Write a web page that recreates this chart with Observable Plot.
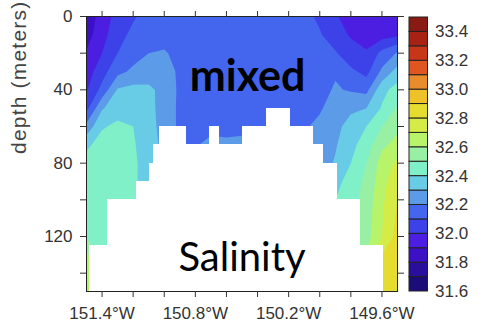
<!DOCTYPE html>
<html><head><meta charset="utf-8">
<script src="https://cdn.jsdelivr.net/npm/d3@7"></script>
<script src="https://cdn.jsdelivr.net/npm/@observablehq/plot@0.6"></script>
<style>
html,body{margin:0;padding:0;background:#fff;}
#chart{position:relative;width:479px;height:322px;overflow:hidden;}
#chart svg{position:absolute;top:0;}
</style></head><body><div id="chart"></div>
<script>
// grid longitudes (deg E, i.e. negative = W) and depths (m)
const lons = [-151.5,-151.4,-151.3,-151.2,-151.1,-151.0,-150.9,-150.8,-150.7,-150.6,-150.5,-150.4,-150.3,-150.2,-150.1,-150.0,-149.9,-149.8,-149.7,-149.6,-149.5];
const depths = [0,10,20,30,40,50,60,70,80,90,100,110,120,130,140,150];
// salinity, one row per depth, one value per longitude
const salinity = [
 [31.84,31.94,32.04,32.09,32.13,32.15,32.15,32.15,32.15,32.15,32.15,32.15,32.15,32.15,32.13,32.08,32.01,31.96,31.95,31.95,31.96],
 [31.86,31.96,32.07,32.12,32.15,32.16,32.16,32.16,32.16,32.16,32.16,32.16,32.16,32.15,32.14,32.11,32.04,31.99,31.96,31.96,31.98],
 [31.91,32.00,32.10,32.16,32.20,32.21,32.17,32.16,32.16,32.16,32.16,32.16,32.16,32.16,32.15,32.14,32.11,32.04,32.01,32.13,32.21],
 [31.95,32.06,32.17,32.22,32.25,32.25,32.18,32.16,32.16,32.16,32.16,32.16,32.16,32.16,32.15,32.17,32.19,32.12,32.07,32.22,32.34],
 [31.99,32.13,32.31,32.33,32.32,32.27,32.18,32.16,32.16,32.16,32.16,32.16,32.16,32.16,32.15,32.17,32.21,32.19,32.17,32.37,32.44],
 [32.07,32.29,32.36,32.37,32.33,32.26,32.18,32.16,32.16,32.16,32.16,32.16,32.16,32.16,32.16,32.19,32.24,32.28,32.30,32.41,32.51],
 [32.23,32.39,32.42,32.40,32.34,32.26,32.18,32.17,32.17,32.17,32.17,32.17,32.16,32.16,32.19,32.22,32.27,32.34,32.40,32.50,32.58],
 [32.38,32.44,32.45,32.41,32.35,32.27,32.18,32.19,32.23,32.22,32.23,32.20,32.17,32.17,32.20,32.24,32.29,32.37,32.45,32.58,32.63],
 [32.44,32.46,32.46,32.42,32.35,32.27,32.18,32.20,32.23,32.22,32.23,32.20,32.17,32.18,32.20,32.25,32.31,32.40,32.50,32.64,32.72],
 [32.46,32.47,32.46,32.42,32.35,32.27,32.18,32.20,32.23,32.22,32.23,32.20,32.17,32.18,32.20,32.26,32.36,32.45,32.52,32.66,32.78],
 [32.47,32.47,32.46,32.42,32.35,32.27,32.18,32.20,32.23,32.22,32.23,32.20,32.17,32.18,32.20,32.26,32.40,32.46,32.54,32.68,32.80],
 [32.48,32.47,32.46,32.42,32.35,32.27,32.18,32.20,32.23,32.22,32.23,32.20,32.17,32.18,32.20,32.26,32.42,32.47,32.55,32.69,32.82],
 [32.49,32.47,32.46,32.42,32.35,32.27,32.18,32.20,32.23,32.22,32.23,32.20,32.17,32.18,32.20,32.26,32.42,32.47,32.56,32.70,32.84],
 [32.62,32.48,32.46,32.42,32.35,32.27,32.18,32.20,32.23,32.22,32.23,32.20,32.17,32.18,32.20,32.26,32.42,32.47,32.58,32.80,32.86],
 [32.66,32.49,32.46,32.42,32.35,32.27,32.18,32.20,32.23,32.22,32.23,32.20,32.17,32.18,32.20,32.26,32.42,32.47,32.59,32.81,32.87],
 [32.70,32.50,32.46,32.42,32.35,32.27,32.18,32.20,32.23,32.22,32.23,32.20,32.17,32.18,32.20,32.26,32.42,32.47,32.60,32.82,32.88]
];
// contour levels and their colours
const levels = [31.6,31.7,31.8,31.9,32.0,32.1,32.2,32.3,32.4,32.5,32.6,32.7,32.8,32.9,33.0,33.1,33.2,33.3,33.4,33.5];
const levelColors = ["#1c0c78","#2a0e9c","#3c10c4","#4c1ee2","#3c42e8","#4466ee","#5c9be8","#68cce6","#80f0c8","#98f0a4","#b8f46a","#d6ec46","#e6dc30","#f0c22a","#e88c2c","#e05620","#c8361a","#a82214","#8a1a14"];
// bathymetry (white area): longitude edges and depth of the top of the sea floor
const maskLon1 = [-151.482,-151.365,-151.180,-151.093,-151.067,-151.030,-150.858,-150.708,-150.644,-150.498,-150.341,-150.187,-150.039,-149.974,-149.884,-149.736];
const maskLon2 = [-151.365,-151.180,-151.093,-151.067,-151.030,-150.858,-150.708,-150.644,-150.498,-150.341,-150.187,-150.039,-149.974,-149.884,-149.736,-149.588];
const maskDepth = [125,100,90,80,70,60,70,60,70,60,50,60,70,80,100,125];
// ticks
const xTicks = [-151.4,-151.2,-151.0,-150.8,-150.6,-150.4,-150.2,-150.0,-149.8,-149.6];
const xTickLabels = ["151.4°W","","","150.8°W","","","150.2°W","","","149.6°W"];
const yTicks = [0,20,40,60,80,100,120,140];
const yTickLabels = ["0","","40","","80","","120",""];
const cbTicks = [31.6,31.8,32.0,32.2,32.4,32.6,32.8,33.0,33.2,33.4];
const cbTickLabels = ["31.6","31.8","32.0","32.2","32.4","32.6","32.8","33.0","33.2","33.4"];
const annotations = ["mixed","Salinity"];
const yLabel = "depth (meters)";

try {
  const xMap = new Map(xTicks.map((d,i)=>[d,xTickLabels[i]]));
  const yMap = new Map(yTicks.map((d,i)=>[d,yTickLabels[i]]));
  const cbMap = new Map(cbTicks.map((d,i)=>[d,cbTickLabels[i]]));
  const dx = lons[1]-lons[0], dy = depths[1]-depths[0];
  const font = "'Liberation Sans', Arial, Helvetica, sans-serif";
  const main = Plot.plot({
    width: 479, height: 322,
    marginLeft: 86, marginRight: 82, marginTop: 16, marginBottom: 31,
    style: {fontFamily: font, fontSize: "17px", color: "#333", background: "transparent", overflow: "visible"},
    x: {domain: [-151.5, -149.5], axis: null},
    y: {domain: [0, 150], reverse: true, axis: null},
    color: {type: "threshold", domain: levels.slice(1, levels.length - 1), range: levelColors},
    marks: [
      Plot.contour(salinity.flat(), {
        width: lons.length, height: depths.length,
        x1: lons[0] - dx/2, x2: lons[lons.length-1] + dx/2,
        y1: depths[0] - dy/2, y2: depths[depths.length-1] + dy/2,
        thresholds: levels.slice(0, levels.length - 1),
        fill: Plot.identity, stroke: "none", clip: true
      }),
      Plot.rect(maskDepth, {x1: (d,i)=>maskLon1[i], x2: (d,i)=>maskLon2[i], y1: d=>d, y2: 150, fill: "white", shapeRendering: "crispEdges"}),
      Plot.frame({stroke: "#222"}),
      Plot.axisX({anchor: "bottom", ticks: xTicks, tickSize: 6, tickPadding: 9, tickFormat: d => xMap.get(d) ?? "", label: null}),
      Plot.axisX({anchor: "top", ticks: xTicks, tickSize: 6, tickFormat: () => "", label: null}),
      Plot.axisY({anchor: "left", ticks: yTicks, tickSize: 6, tickPadding: 8, tickFormat: d => yMap.get(d) ?? "", label: null}),
      Plot.axisY({anchor: "right", ticks: yTicks, tickSize: 6, tickFormat: () => "", label: null}),
      Plot.text([yLabel], {frameAnchor: "left", dx: -67, rotate: -90, fontSize: 21, fill: "#444"}),
      Plot.text([annotations[0]], {x: -150.464, y: 32.9, fontFamily: "Lato", fontWeight: 700, fontSize: 43, fill: "black"}),
      Plot.text([annotations[1]], {x: -150.5, y: 131.8, fontFamily: "Lato", fontWeight: 400, fontSize: 40, fill: "black"})
    ]
  });
  main.style.left = "0px";
  main.querySelectorAll("text").forEach(t => {
    if (t.textContent === yLabel) t.style.letterSpacing = "1.2px";
  });
  document.getElementById("chart").appendChild(main);

  const bar = Plot.plot({
    width: 80, height: 322,
    marginLeft: 10, marginRight: 51.5, marginTop: 17, marginBottom: 31,
    style: {fontFamily: font, fontSize: "17px", color: "#333", background: "transparent", overflow: "visible"},
    x: {domain: [0, 1], axis: null},
    y: {domain: [levels[0], levels[levels.length-1]], axis: null},
    marks: [
      Plot.rect(levelColors, {x1: 0, x2: 1, y1: (d,i)=>levels[i], y2: (d,i)=>levels[i+1], fill: d=>d, stroke: "#222", strokeWidth: 1}),
      Plot.axisY({anchor: "right", ticks: cbTicks, tickSize: 0, tickPadding: 7, tickFormat: d => cbMap.get(d) ?? "", label: null})
    ]
  });
  bar.style.left = "399px";
  document.getElementById("chart").appendChild(bar);
} catch (e) {
  document.body.insertAdjacentHTML("beforeend", "<pre>" + e.stack + "</pre>");
}
</script></body></html>
